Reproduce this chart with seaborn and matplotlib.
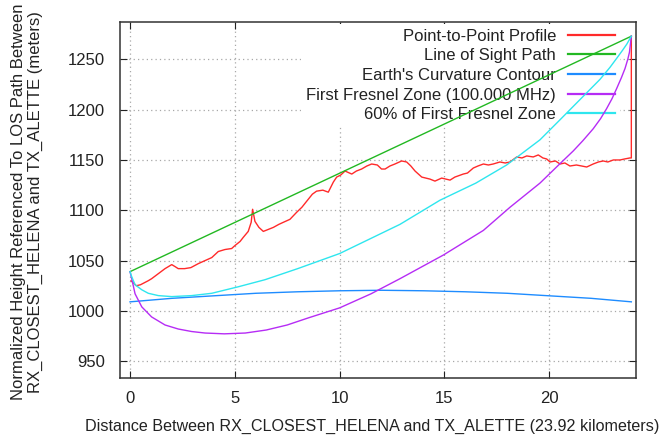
import numpy as np
import pandas as pd
import seaborn as sns
import matplotlib.pyplot as plt

# distances in km, heights in m
los_km = [0.0, 23.92]
los_m = [1039, 1273]

prof_km = [0.05, 0.3, 0.5, 0.87, 1.03, 1.35, 1.67, 1.83, 1.99, 2.15, 2.3, 2.6, 2.9,
           3.26, 3.58, 3.9, 4.21, 4.53, 4.85, 5.01, 5.25, 5.4, 5.64, 5.78, 5.85, 5.96,
           6.15, 6.36, 6.6, 6.84, 7.1, 7.31, 7.63, 7.95, 8.2, 8.43, 8.7, 8.9, 9.2, 9.46,
           9.7, 9.86, 10.05, 10.26, 10.58, 10.8, 11.05, 11.3, 11.53, 11.8, 12.0, 12.17,
           12.4, 12.64, 12.96, 13.2, 13.4, 13.6, 13.92, 14.31, 14.55, 14.87, 15.27, 15.5,
           15.9, 16.1, 16.38, 16.6, 16.86, 17.1, 17.33, 17.65, 17.9, 18.13, 18.45, 18.7,
           18.93, 19.24, 19.48, 19.7, 19.88, 20.04, 20.3, 20.52, 20.75, 20.99, 21.3,
           21.55, 21.79, 22.1, 22.35, 22.58, 22.8, 23.06, 23.38, 23.6, 23.85, 23.92, 23.92]
prof_m = [1030, 1025, 1026, 1030, 1032, 1037, 1042, 1044, 1046, 1044, 1042, 1042, 1043,
          1047, 1050, 1053, 1059, 1061, 1062, 1065, 1069, 1073, 1079, 1088, 1101, 1089,
          1083, 1079, 1081, 1083, 1086, 1088, 1091, 1098, 1103, 1109, 1116, 1119, 1120, 1118,
          1128, 1133, 1135, 1139, 1136, 1139, 1141, 1144, 1146, 1145, 1141, 1141,
          1144, 1146, 1149, 1148, 1144, 1139, 1133, 1131, 1129, 1132, 1130, 1133,
          1136, 1137, 1142, 1144, 1146, 1145, 1146, 1148, 1147, 1148, 1153, 1152,
          1154, 1153, 1155, 1152, 1151, 1148, 1149, 1146, 1147, 1144, 1145,
          1144, 1143, 1146, 1148, 1149, 1148, 1150, 1150, 1151, 1152, 1152, 1273]

earth_km = [0, 2, 4, 6, 8, 10, 12, 14, 16, 18, 20, 22, 23.92]
earth_m = [1009, 1012.5, 1015, 1017.5, 1019, 1020, 1020.5, 1020, 1019, 1017.5, 1015, 1012.5, 1009]

fresnel_km = [0, 0.08, 0.24, 0.56, 1.03, 1.67, 2.3, 2.94, 3.58, 4.5, 5.5, 6.5, 7.5, 8.5,
              10.0, 11.5, 12.88, 14.95, 16.86, 18.13, 19.56, 20.5, 21.15, 21.6, 22.1,
              22.45, 22.74, 23.0, 23.22, 23.45, 23.62, 23.75, 23.83, 23.92]
fresnel_m = [1039, 1032, 1017, 1004, 994, 986, 982, 979.5, 978, 977.2, 978, 981, 986, 993,
             1003, 1017, 1032, 1055.5, 1080, 1103, 1127, 1146, 1159, 1169, 1181,
             1191, 1201, 1211, 1221, 1232, 1241, 1250, 1257, 1273]

f60_km = [0, 0.08, 0.24, 0.56, 0.87, 1.35, 1.99, 2.94, 3.9, 5.17, 6.44, 8.0, 10.0, 12.88,
          14.79, 16.5, 17.97, 19.56, 20.52, 21.47, 22.42, 22.9, 23.22, 23.5, 23.7, 23.92]
f60_m = [1039, 1034, 1026, 1021, 1017.5, 1015.2, 1014.2, 1015.2, 1017.5, 1024, 1031, 1042,
         1057, 1086, 1110, 1127, 1145, 1170, 1190, 1210, 1230, 1242, 1251, 1259, 1265, 1273]

names = ["Point-to-Point Profile", "Line of Sight Path", "Earth's Curvature Contour",
         "First Fresnel Zone (100.000 MHz)", "60% of First Fresnel Zone"]
colors = ["#ff2a2a", "#22b822", "#1e8cff", "#b62cf5", "#2ee6ee"]
series = [(prof_km, prof_m), (los_km, los_m), (earth_km, earth_m),
          (fresnel_km, fresnel_m), (f60_km, f60_m)]

plt.rcParams["font.family"] = ["Liberation Sans", "DejaVu Sans"]
plt.rcParams["font.size"] = 12

fig = plt.figure(figsize=(6.68, 4.37), dpi=100)
ax = fig.add_axes([0.1796, 0.1343, 0.9517 - 0.1796, 0.9503 - 0.1343])

for (xs, ys), name, c in zip(series, names, colors):
    df = pd.DataFrame({"km": xs, "m": ys})
    sns.lineplot(data=df, x="km", y="m", color=c, lw=1.0, sort=False,
                 estimator=None, ax=ax, label=name)

ax.set_xlim(-0.48, 24.13)
ax.set_ylim(933, 1287.4)
ax.set_xticks([0, 5, 10, 15, 20])
ax.set_yticks(np.arange(950, 1251, 50))
ax.set_axisbelow(True)
ax.grid(True, color="#a8a8a8", lw=0.9, ls=(0, (1, 2.5)))
ax.tick_params(direction="in", length=5, width=0.8, top=True, right=True,
               labelsize=12, colors="#222222")
ax.tick_params(axis="x", pad=9)
ax.tick_params(axis="y", pad=11)
for s in ax.spines.values():
    s.set_linewidth(1.1)
    s.set_color("#333333")

ax.set_xlabel("Distance Between RX_CLOSEST_HELENA and TX_ALETTE (23.92 kilometers)",
              fontsize=11.6, color="#222222")
ax.xaxis.set_label_coords(0.4887, -0.135)
ax.xaxis.label.set_va("center")
ax.set_ylabel("Normalized Height Referenced To LOS Path Between\n"
              "RX_CLOSEST_HELENA and TX_ALETTE (meters)",
              fontsize=12, color="#222222", linespacing=1.15)
ax.yaxis.set_label_coords(-0.149, 0.495)

leg = ax.legend(loc="upper right", bbox_to_anchor=(0.9696, 0.995), markerfirst=False,
                frameon=True, fontsize=12, handlelength=2.8, handletextpad=0.75,
                labelspacing=0.28, borderpad=0.3, borderaxespad=0.0, fancybox=False)
leg.get_frame().set_facecolor("white")
leg.get_frame().set_edgecolor("none")
leg.get_frame().set_alpha(1)
leg.set_zorder(1.5)
for l in leg.get_lines():
    l.set_linewidth(1.6)
for t in leg.get_texts():
    t.set_color("#222222")

fig.savefig("out.png", dpi=100)
